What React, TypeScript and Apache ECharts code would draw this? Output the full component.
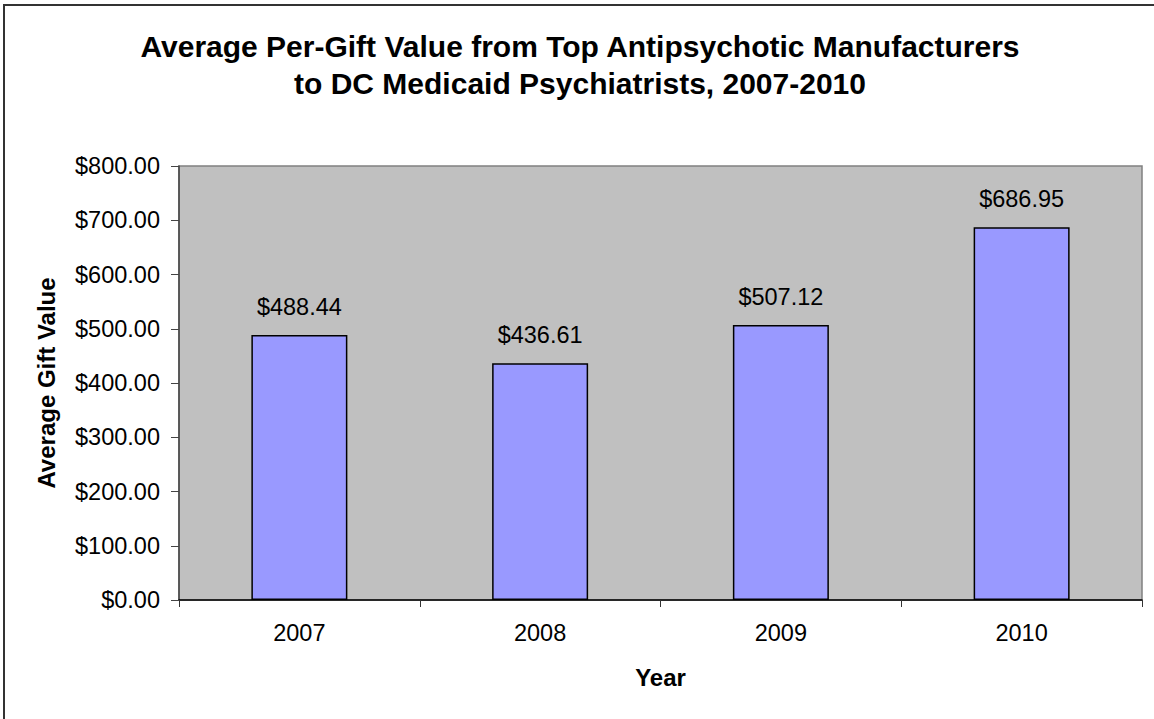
import React, { useEffect, useRef } from "react";
import * as echarts from "echarts";

const years = ["2007", "2008", "2009", "2010"];
const avgGiftValue = [488.44, 436.61, 507.12, 686.95];
const titleLines = [
  "Average Per-Gift Value from Top Antipsychotic Manufacturers",
  "to DC Medicaid Psychiatrists, 2007-2010",
];
const xAxisName = "Year";
const yAxisName = "Average Gift Value";

const FONT = "'Liberation Sans', Arial, sans-serif";
const money = (v: number) => "$" + v.toFixed(2);

export default function App() {
  const ref = useRef<HTMLDivElement>(null);
  useEffect(() => {
    if (!ref.current) return;
    const chart = echarts.init(ref.current, null, { renderer: "svg" });
    chart.setOption({
      animation: false,
      backgroundColor: "#ffffff",
      textStyle: { fontFamily: FONT },
      title: {
        text: titleLines.join("\n"),
        left: 580,
        top: 28,
        textAlign: "center",
        padding: 0,
        textStyle: {
          fontFamily: FONT,
          fontSize: 30,
          fontWeight: "bold",
          color: "#000",
          lineHeight: 37,
        },
      },
      graphic: [
        {
          type: "rect",
          shape: { x: 4, y: 5, width: 1170, height: 730 },
          style: { fill: "none", stroke: "#333", lineWidth: 2 },
          silent: true,
        },
      ],
      grid: {
        left: 179,
        top: 166,
        right: 12,
        bottom: 119,
        show: true,
        backgroundColor: "#C0C0C0",
        borderColor: "#808080",
        borderWidth: 1.5,
      },
      xAxis: {
        type: "category",
        data: years,
        name: xAxisName,
        nameLocation: "middle",
        nameGap: 65,
        nameTextStyle: { fontFamily: FONT, fontSize: 24, fontWeight: "bold", color: "#000" },
        axisLine: { show: true, lineStyle: { color: "#000", width: 1.5 } },
        axisTick: { show: true, length: 7, inside: false, lineStyle: { color: "#333", width: 1 } },
        axisLabel: { fontFamily: FONT, fontSize: 23.5, color: "#000", margin: 21 },
        splitLine: { show: false },
      },
      yAxis: {
        type: "value",
        min: 0,
        max: 800,
        interval: 100,
        name: yAxisName,
        nameLocation: "middle",
        nameGap: 121,
        nameRotate: 90,
        nameTextStyle: { fontFamily: FONT, fontSize: 24, fontWeight: "bold", color: "#000" },
        axisLine: { show: true, lineStyle: { color: "#444", width: 1.5 } },
        axisTick: { show: true, length: 8, lineStyle: { color: "#444", width: 1 } },
        axisLabel: {
          fontFamily: FONT,
          fontSize: 23.5,
          color: "#000",
          margin: 19,
          formatter: (v: number) => money(v),
        },
        splitLine: { show: false },
      },
      series: [
        {
          type: "bar",
          data: avgGiftValue,
          barWidth: 96,
          itemStyle: { color: "#9999FF", borderColor: "#000", borderWidth: 1.5 },
          label: {
            show: true,
            position: "top",
            distance: 16,
            fontFamily: FONT,
            fontSize: 23.5,
            color: "#000",
            formatter: (p: any) => money(p.value),
          },
        },
      ],
    });
    return () => chart.dispose();
  }, []);
  return (
    <div
      ref={ref}
      style={{ position: "fixed", left: 0, top: 0, width: 1154, height: 719 }}
    />
  );
}
